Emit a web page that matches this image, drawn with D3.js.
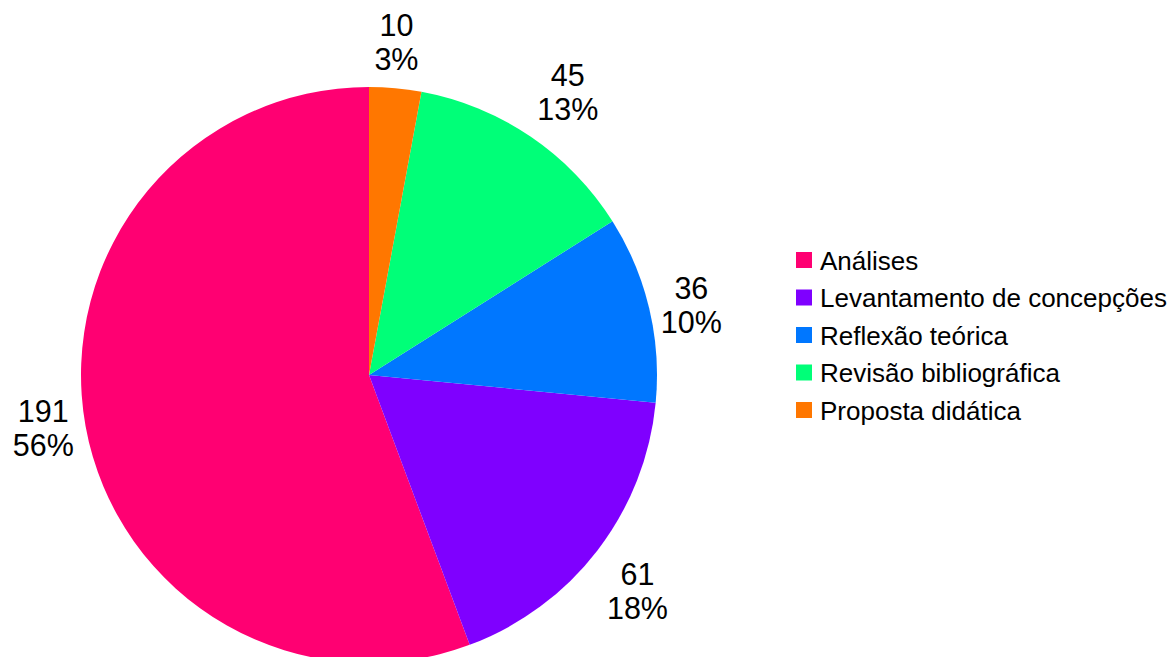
<!DOCTYPE html>
<html>
<head>
<meta charset="utf-8">
<script src="https://cdn.jsdelivr.net/npm/d3@7"></script>
<style>
html,body{margin:0;padding:0;background:#fff;}
svg{display:block;}
text{font-family:"Liberation Sans",Arial,sans-serif;}
</style>
</head>
<body>
<svg id="chart" width="1169" height="657"></svg>
<script>
const categories = ["Análises","Levantamento de concepções","Reflexão teórica","Revisão bibliográfica","Proposta didática"];
const values = [191, 61, 36, 45, 10];
const percentLabels = ["56%","18%","10%","13%","3%"];
const colors = ["#ff0072","#7f00ff","#0077ff","#00ff78","#ff7700"];

const svg = d3.select("#chart");
const cx = 369, cy = 375, r = 288;
const g = svg.append("g").attr("transform", `translate(${cx},${cy})`);

const pie = d3.pie().sort(null).startAngle(0).endAngle(-2*Math.PI);
const arcs = pie(values);
const arc = d3.arc().innerRadius(0).outerRadius(r);

g.selectAll("path.slice").data(arcs).enter().append("path")
  .attr("class","slice")
  .attr("d", arc)
  .attr("fill", (d,i)=>colors[i]);

// labels
const labelFont = 30.5, lineH = 34, gap = 12;
arcs.forEach((d,i)=>{
  let a = (d.startAngle + d.endAngle)/2;
  a = ((a % (2*Math.PI)) + 2*Math.PI) % (2*Math.PI);
  const px = Math.sin(a)*(r+gap), py = -Math.cos(a)*(r+gap);
  const t = g.append("text").attr("font-size", labelFont).attr("fill","#000").attr("text-anchor","middle");
  t.append("tspan").attr("x",0).attr("y",0).text(values[i]);
  t.append("tspan").attr("x",0).attr("y",lineH).text(percentLabels[i]);
  const bb = t.node().getBBox();
  const w = bb.width, h = 2*lineH;
  const deg = a*180/Math.PI;
  const sector = Math.round(deg/45) % 8;
  const hx = [0,1,1,1,0,-1,-1,-1][sector];
  const vy = [-1,-1,0,1,1,1,0,-1][sector];
  const bx = hx===0 ? px - w/2 : (hx>0 ? px : px - w);
  const by = vy===0 ? py - h/2 : (vy>0 ? py : py - h);
  const asc = 27.5;
  t.attr("transform", `translate(${bx + w/2},${by + asc})`);
});

// legend
const legend = svg.append("g").attr("transform","translate(796,252)");
categories.forEach((c,i)=>{
  const row = legend.append("g").attr("transform",`translate(0,${i*37.5})`);
  row.append("rect").attr("width",16).attr("height",16).attr("fill",colors[i]);
  row.append("text").attr("x",24).attr("y",17.5).attr("font-size",26).attr("fill","#000").text(c);
});
</script>
</body>
</html>
